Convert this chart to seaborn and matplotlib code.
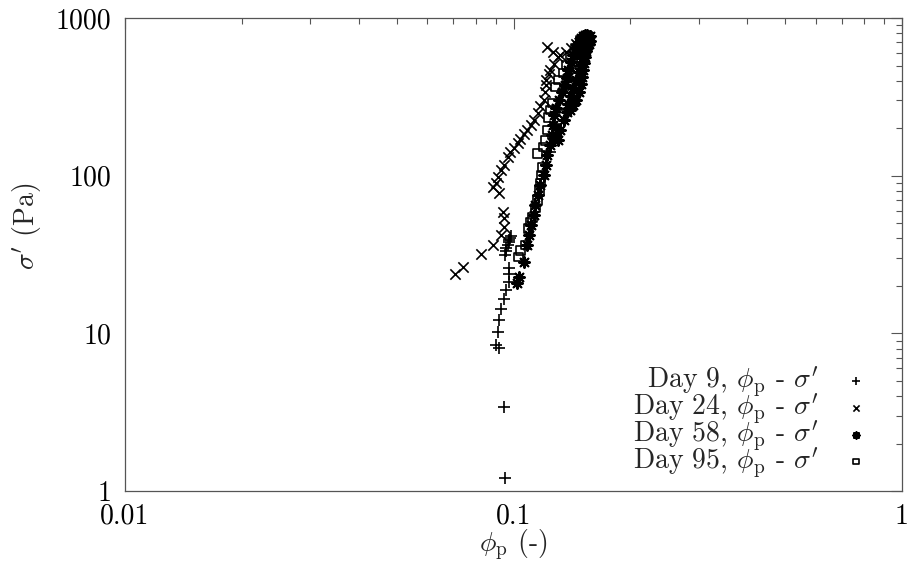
import matplotlib
matplotlib.use("Agg")
import matplotlib.pyplot as plt
import seaborn as sns
import pandas as pd
from matplotlib.ticker import FixedLocator, FixedFormatter, LogLocator, NullFormatter

# ---------------- data ----------------
day9_phi = [0.0948, 0.0943, 0.0904, 0.0915, 0.0910, 0.0915, 0.0931, 0.0943, 0.0959, 0.0971,
            0.0976, 0.0976, 0.0948, 0.0954, 0.0959, 0.0965, 0.0971, 0.0976, 0.0982, 0.0988,
            0.1209, 0.1245, 0.1260, 0.1280, 0.1306, 0.1340, 0.1385, 0.1420, 0.1460, 0.1500]
day9_sig = [1.21, 3.41, 8.43, 8.07, 10.2, 12.1, 14.3, 16.5, 18.8, 21.2,
            23.8, 25.9, 31.4, 33.2, 34.7, 36.3, 37.9, 39.0, 40.2, 41.4,
            117, 141, 173, 212, 261, 350, 420, 480, 560, 650]

day24_phi = [0.0705, 0.0743, 0.0827, 0.0888, 0.0931, 0.0943, 0.0943, 0.0937,
             0.0920, 0.0888, 0.0899, 0.0910, 0.0926, 0.0943, 0.0965, 0.0982, 0.1000,
             0.1024, 0.1042, 0.1061, 0.1086, 0.1106, 0.1126, 0.1153, 0.1173, 0.1195,
             0.1202, 0.1209, 0.1209, 0.1231, 0.1245, 0.1268, 0.1298, 0.1260, 0.1223,
             0.1321, 0.1361, 0.1402, 0.1444]
day24_sig = [23.8, 26.3, 31.8, 36.3, 42.0, 47.2, 53.8, 58.8,
             77.6, 84.7, 89.8, 98.0, 108, 117, 131, 141, 150,
             161, 171, 184, 195, 209, 225, 249, 276, 302,
             339, 375, 404, 441, 467, 510, 565, 608, 654,
             582, 608, 644, 683]

day58_phi = [0.1018, 0.1030, 0.1061, 0.1080, 0.1093, 0.1106, 0.1126, 0.1139, 0.1153, 0.1173,
             0.1195, 0.1209, 0.1223, 0.1238, 0.1253, 0.1260, 0.1268, 0.1283, 0.1306, 0.1329,
             0.1353, 0.1369, 0.1385, 0.1402, 0.1419, 0.1444, 0.1470, 0.1488, 0.1514, 0.1532,
             0.1551, 0.1541, 0.1523, 0.1505, 0.1488, 0.1470, 0.1444, 0.1419, 0.1402, 0.1385,
             0.1369, 0.1345, 0.1321, 0.1298,
             0.1500, 0.1520, 0.1540, 0.1560, 0.1570, 0.1550, 0.1530, 0.1510, 0.1490, 0.1470,
             0.1460, 0.1480, 0.1500, 0.1520, 0.1540, 0.1560, 0.1570,
             0.1400, 0.1420, 0.1450, 0.1470, 0.1490, 0.1500, 0.1510, 0.1520, 0.1530, 0.1540,
             0.1550, 0.1560]
day58_sig = [20.8, 22.8, 28.3, 36.3, 42.0, 48.6, 56.2, 65.1, 75.3, 87.1,
             101, 117, 135, 156, 181, 209, 242, 268, 302, 339,
             375, 416, 467, 525, 582, 644, 703, 746, 768, 779,
             768, 703, 626, 557, 503, 454, 404, 359, 320, 284,
             253, 225, 195, 168,
             700, 720, 740, 760, 775, 780, 770, 750, 730, 700,
             670, 650, 620, 600, 640, 680, 720,
             260, 280, 300, 340, 380, 420, 470, 520, 570, 620,
             670, 720]

day95_phi = [0.1030, 0.1042, 0.1074, 0.1093, 0.1119, 0.1106, 0.1139, 0.1153, 0.1166, 0.1173,
             0.1180, 0.1188, 0.1153, 0.1195, 0.1209, 0.1223, 0.1231, 0.1245, 0.1260, 0.1283,
             0.1306, 0.1345, 0.1369, 0.1402, 0.1444, 0.1488, 0.1532]
day95_sig = [30.5, 33.7, 36.3, 46.5, 54.6, 50.8, 62.3, 70.0, 81.0, 89.8,
             101, 113, 139, 152, 168, 195, 235, 261, 289, 365,
             404, 448, 503, 565, 644, 724, 746]

x_ticks = [0.01, 0.1, 1]
x_tick_labels = ["0.01", "0.1", "1"]
y_ticks = [1, 10, 100, 1000]
y_tick_labels = ["1", "10", "100", "1000"]

labels = [r"Day 9, $\phi_{\rm p}$ - $\sigma'$",
          r"Day 24, $\phi_{\rm p}$ - $\sigma'$",
          r"Day 58, $\phi_{\rm p}$ - $\sigma'$",
          r"Day 95, $\phi_{\rm p}$ - $\sigma'$"]

# ---------------- style ----------------
sns.set_style("white")
plt.rcParams['font.family'] = ['cmr10', 'DejaVu Serif']
plt.rcParams['mathtext.fontset'] = 'cm'
plt.rcParams['axes.formatter.use_mathtext'] = True

fig = plt.figure(figsize=(9.08, 5.64), dpi=100)
ax = fig.add_axes([0.1377, 0.1294, 0.8557, 0.8386])

series = [
    (day9_phi, day9_sig, '+', dict(color='black', linewidths=1.2), 80),
    (day24_phi, day24_sig, 'x', dict(color='black', linewidths=1.2), 55),
    (day58_phi, day58_sig, (8, 2, 0), dict(color='black', linewidths=1.5), 60),
    (day95_phi, day95_sig, 's', dict(facecolors='none', edgecolors='black', linewidths=1.2), 40),
]
for (px, py, mk, kw, sz), lab in zip(series, labels):
    df = pd.DataFrame({"phi": px, "sigma": py})
    sns.scatterplot(data=df, x="phi", y="sigma", marker=mk, s=sz, ax=ax, label=lab, **kw)

ax.set_xscale('log')
ax.set_yscale('log')
ax.set_xlim(0.01, 1)
ax.set_ylim(1, 1000)

ax.xaxis.set_major_locator(FixedLocator(x_ticks))
ax.xaxis.set_major_formatter(FixedFormatter(x_tick_labels))
ax.yaxis.set_major_locator(FixedLocator(y_ticks))
ax.yaxis.set_major_formatter(FixedFormatter(y_tick_labels))
ax.xaxis.set_minor_locator(LogLocator(base=10, subs=range(2, 10)))
ax.yaxis.set_minor_locator(LogLocator(base=10, subs=range(2, 10)))
ax.xaxis.set_minor_formatter(NullFormatter())
ax.yaxis.set_minor_formatter(NullFormatter())

ax.tick_params(which='both', direction='in', top=True, right=True, colors='#555555',
               labelcolor='black', labelsize=20, width=0.8)
ax.tick_params(which='major', length=8)
ax.tick_params(axis='y', which='major', pad=10)
ax.tick_params(axis='x', which='major', pad=9)
ax.tick_params(which='minor', length=4)
for sp in ax.spines.values():
    sp.set_color('#555555')
    sp.set_linewidth(0.9)

ax.set_xlabel(r"$\phi_{\rm p}$ (-)", fontsize=20, labelpad=-2)
ax.set_ylabel(r"$\sigma'$ (Pa)", fontsize=20)
ax.yaxis.set_label_coords(-0.105, 0.56)

ax.legend(loc='lower right', bbox_to_anchor=(0.98, -0.012), frameon=False, markerfirst=False,
          fontsize=20, labelspacing=-0.28, handletextpad=0.85, handlelength=1.0,
          markerscale=0.6, borderaxespad=0.2)

fig.savefig("out.png", dpi=100)
